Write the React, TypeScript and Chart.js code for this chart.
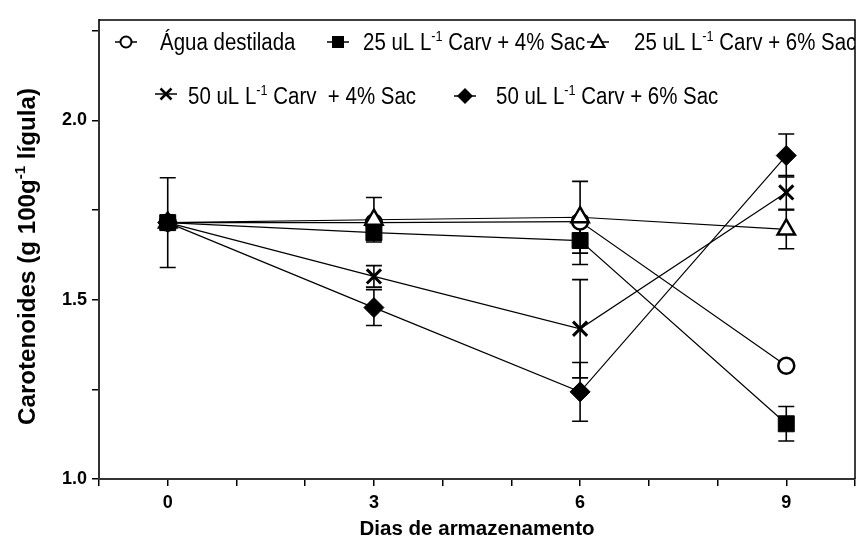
import React, { useEffect, useRef } from 'react';
import { Chart, registerables } from 'chart.js';

Chart.register(...registerables);

// ---- data ----
const days = [0, 3, 6, 9];
const aguaVals = [1.715, 1.715, 1.718, 1.316];
const aguaErr = [0.125, 0, 0, 0];
const c25s4Vals = [1.715, 1.687, 1.665, 1.154];
const c25s4Err = [0, 0.02, 0.067, 0.048];
const c25s6Vals = [1.715, 1.723, 1.73, 1.696];
const c25s6Err = [0, 0.062, 0.1, 0.054];
const c50s4Vals = [1.715, 1.565, 1.419, 1.799];
const c50s4Err = [0, 0.03, 0.137, 0.047];
const c50s6Vals = [1.715, 1.478, 1.243, 1.902];
const c50s6Err = [0, 0.05, 0.082, 0.06];

const xTickLabels = [0, 3, 6, 9];
const yTickLabels = [1.0, 1.5, 2.0];

type Part = { t: string; sup?: boolean };
const legendAgua: Part[] = [{ t: 'Água destilada' }];
const legend25s4: Part[] = [{ t: '25 uL L' }, { t: '-1', sup: true }, { t: ' Carv + 4% Sac' }];
const legend25s6: Part[] = [{ t: '25 uL L' }, { t: '-1', sup: true }, { t: ' Carv + 6% Sac' }];
const legend50s4: Part[] = [{ t: '50 uL L' }, { t: '-1', sup: true }, { t: ' Carv  + 4% Sac' }];
const legend50s6: Part[] = [{ t: '50 uL L' }, { t: '-1', sup: true }, { t: ' Carv + 6% Sac' }];
const yTitle: Part[] = [{ t: 'Carotenoides (g 100g' }, { t: '-1', sup: true }, { t: ' lígula)' }];
const xTitle = 'Dias de armazenamento';

const FONT = '"Liberation Sans", Arial, sans-serif';

function measureRich(ctx: CanvasRenderingContext2D, parts: Part[], size: number, bold: boolean) {
  let w = 0;
  for (const p of parts) {
    const fs = p.sup ? size * 0.62 : size;
    ctx.font = `${bold ? 'bold ' : ''}${fs}px ${FONT}`;
    w += ctx.measureText(p.t).width;
  }
  return w;
}

function drawRich(ctx: CanvasRenderingContext2D, parts: Part[], x: number, y: number, size: number, bold: boolean, sx: number) {
  ctx.save();
  ctx.translate(x, y);
  ctx.scale(sx, 1);
  ctx.fillStyle = '#000';
  ctx.textBaseline = 'alphabetic';
  ctx.textAlign = 'left';
  let cx = 0;
  for (const p of parts) {
    const fs = p.sup ? size * 0.62 : size;
    ctx.font = `${bold ? 'bold ' : ''}${fs}px ${FONT}`;
    ctx.fillText(p.t, cx, p.sup ? -size * 0.4 : 0);
    cx += ctx.measureText(p.t).width;
  }
  ctx.restore();
}

function mkData(vals: number[]) {
  return days.map((d, i) => ({ x: d, y: vals[i] }));
}

const errorBarPlugin = {
  id: 'errorBars',
  beforeDatasetsDraw(chart: any) {
    const ctx: CanvasRenderingContext2D = chart.ctx;
    const xs = chart.scales.x;
    const ys = chart.scales.y;
    ctx.save();
    ctx.strokeStyle = '#000';
    ctx.lineWidth = 1.6;
    chart.data.datasets.forEach((ds: any) => {
      const errs: number[] = ds.errors || [];
      ds.data.forEach((pt: any, j: number) => {
        const e = errs[j];
        if (!e) return;
        const px = xs.getPixelForValue(pt.x);
        const y1 = ys.getPixelForValue(pt.y + e);
        const y2 = ys.getPixelForValue(pt.y - e);
        ctx.beginPath();
        ctx.moveTo(px, y1);
        ctx.lineTo(px, y2);
        ctx.moveTo(px - 8, y1);
        ctx.lineTo(px + 8, y1);
        ctx.moveTo(px - 8, y2);
        ctx.lineTo(px + 8, y2);
        ctx.stroke();
      });
    });
    ctx.restore();
  },
};

function legendMarker(ctx: CanvasRenderingContext2D, kind: string, x: number, y: number) {
  ctx.save();
  ctx.strokeStyle = '#000';
  ctx.fillStyle = '#000';
  ctx.lineWidth = 1.5;
  ctx.beginPath();
  ctx.moveTo(x - 11, y);
  ctx.lineTo(x + 11, y);
  ctx.stroke();
  ctx.lineWidth = 2;
  ctx.beginPath();
  if (kind === 'circle') {
    ctx.arc(x, y, 5.5, 0, Math.PI * 2);
    ctx.fillStyle = '#fff';
    ctx.fill();
    ctx.stroke();
  } else if (kind === 'rect') {
    ctx.fillRect(x - 6, y - 6, 12, 12);
  } else if (kind === 'triangle') {
    ctx.moveTo(x, y - 7);
    ctx.lineTo(x + 6.5, y + 5);
    ctx.lineTo(x - 6.5, y + 5);
    ctx.closePath();
    ctx.fillStyle = '#fff';
    ctx.fill();
    ctx.stroke();
  } else if (kind === 'cross') {
    ctx.lineWidth = 2.5;
    ctx.moveTo(x - 5.5, y - 5.5);
    ctx.lineTo(x + 5.5, y + 5.5);
    ctx.moveTo(x + 5.5, y - 5.5);
    ctx.lineTo(x - 5.5, y + 5.5);
    ctx.stroke();
  } else if (kind === 'diamond') {
    ctx.moveTo(x, y - 8);
    ctx.lineTo(x + 8, y);
    ctx.lineTo(x, y + 8);
    ctx.lineTo(x - 8, y);
    ctx.closePath();
    ctx.fill();
  }
  ctx.restore();
}

const decorPlugin = {
  id: 'decor',
  afterDraw(chart: any) {
    const ctx: CanvasRenderingContext2D = chart.ctx;
    const a = chart.chartArea;
    // top & right frame
    ctx.save();
    ctx.strokeStyle = '#000';
    ctx.lineWidth = 1.5;
    ctx.beginPath();
    ctx.moveTo(a.left, a.top);
    ctx.lineTo(a.right, a.top);
    ctx.lineTo(a.right, a.bottom);
    ctx.stroke();
    ctx.restore();

    // legend inside plot
    ctx.save();
    ctx.beginPath();
    ctx.rect(a.left, a.top, a.right - a.left, a.bottom - a.top);
    ctx.clip();
    const LS = 23;
    const SX = 0.89;
    const r1 = 50;
    const r2 = 104;
    legendMarker(ctx, 'circle', 126, 42);
    drawRich(ctx, legendAgua, 160, r1, LS, false, SX);
    legendMarker(ctx, 'rect', 338, 42);
    drawRich(ctx, legend25s4, 363, r1, LS, false, SX);
    legendMarker(ctx, 'triangle', 598, 42);
    drawRich(ctx, legend25s6, 634, r1, LS, false, SX);
    legendMarker(ctx, 'cross', 166, 94);
    drawRich(ctx, legend50s4, 188, r2, LS, false, SX);
    legendMarker(ctx, 'diamond', 465, 96);
    drawRich(ctx, legend50s6, 496, r2, LS, false, SX);
    ctx.restore();

    // y title
    ctx.save();
    const ySize = 24;
    const yw = measureRich(ctx, yTitle, ySize, true);
    const ysx = 337 / yw;
    ctx.translate(35, 256.5);
    ctx.rotate(-Math.PI / 2);
    drawRich(ctx, yTitle, -337 / 2, 0, ySize, true, ysx);
    ctx.restore();

    // x title
    ctx.save();
    const xParts: Part[] = [{ t: xTitle }];
    const xw = measureRich(ctx, xParts, 20, true);
    const xsx = 235 / xw;
    drawRich(ctx, xParts, (a.left + a.right) / 2 - 235 / 2, 535, 20, true, xsx);
    ctx.restore();
  },
};

export default function App() {
  const ref = useRef<HTMLCanvasElement>(null);
  useEffect(() => {
    const line = { borderColor: '#000', borderWidth: 1.2, tension: 0, fill: false };
    const chart = new Chart(ref.current as HTMLCanvasElement, {
      type: 'line',
      data: {
        datasets: [
          {
            ...line,
            label: 'Água destilada',
            data: mkData(aguaVals),
            errors: aguaErr,
            pointStyle: 'circle',
            pointRadius: 8,
            pointBackgroundColor: '#fff',
            pointBorderColor: '#000',
            pointBorderWidth: 2.5,
            order: 4,
          } as any,
          {
            ...line,
            label: '25 uL L-1 Carv + 4% Sac',
            data: mkData(c25s4Vals),
            errors: c25s4Err,
            pointStyle: 'rect',
            pointRadius: 11.3,
            pointBackgroundColor: '#000',
            pointBorderColor: '#000',
            pointBorderWidth: 1,
            order: 1,
          } as any,
          {
            ...line,
            label: '25 uL L-1 Carv + 6% Sac',
            data: mkData(c25s6Vals),
            errors: c25s6Err,
            pointStyle: 'triangle',
            pointRadius: 10,
            pointBackgroundColor: '#fff',
            pointBorderColor: '#000',
            pointBorderWidth: 2.5,
            order: 3,
          } as any,
          {
            ...line,
            label: '50 uL L-1 Carv + 4% Sac',
            data: mkData(c50s4Vals),
            errors: c50s4Err,
            pointStyle: 'crossRot',
            pointRadius: 10,
            pointBackgroundColor: '#000',
            pointBorderColor: '#000',
            pointBorderWidth: 3,
            order: 2,
          } as any,
          {
            ...line,
            label: '50 uL L-1 Carv + 6% Sac',
            data: mkData(c50s6Vals),
            errors: c50s6Err,
            pointStyle: 'rectRot',
            pointRadius: 10,
            pointBackgroundColor: '#000',
            pointBorderColor: '#000',
            pointBorderWidth: 1,
            order: 0,
          } as any,
        ],
      },
      options: {
        animation: false,
        responsive: false,
        devicePixelRatio: 1,
        layout: { padding: { top: 20, right: 3, left: 0, bottom: 0 } },
        plugins: { legend: { display: false }, tooltip: { enabled: false } },
        scales: {
          x: {
            type: 'linear',
            min: -1,
            max: 10,
            afterFit: (s: any) => { s.height = 58; },
            border: { display: true, color: '#333', width: 2 },
            grid: { drawOnChartArea: false, drawTicks: true, tickLength: 7, color: '#000', lineWidth: 1.5 },
            ticks: {
              stepSize: 1,
              autoSkip: false,
              maxRotation: 0,
              padding: 6,
              color: '#000',
              font: { family: FONT, size: 18, weight: 'bold' },
              callback: (v: any) => (xTickLabels.includes(Number(v)) ? String(v) : ''),
            },
          },
          y: {
            type: 'linear',
            min: 1.0,
            max: 2.28,
            afterFit: (s: any) => { s.width = 99; },
            border: { display: true, color: '#333', width: 2 },
            grid: { drawOnChartArea: false, drawTicks: true, tickLength: 7, color: '#000', lineWidth: 1.5 },
            ticks: {
              stepSize: 0.25,
              includeBounds: false,
              padding: 5,
              color: '#000',
              font: { family: FONT, size: 18, weight: 'bold' },
              callback: (v: any) => {
                const n = Number(v);
                return yTickLabels.some((t) => Math.abs(t - n) < 1e-6) ? n.toFixed(1) : '';
              },
            },
          },
        },
      } as any,
      plugins: [errorBarPlugin, decorPlugin],
    });
    return () => chart.destroy();
  }, []);
  return (
    <div style={{ position: 'fixed', left: 0, top: 0, width: 868, height: 537, background: '#fff' }}>
      <canvas ref={ref} width={868} height={537} style={{ display: 'block' }} />
    </div>
  );
}
